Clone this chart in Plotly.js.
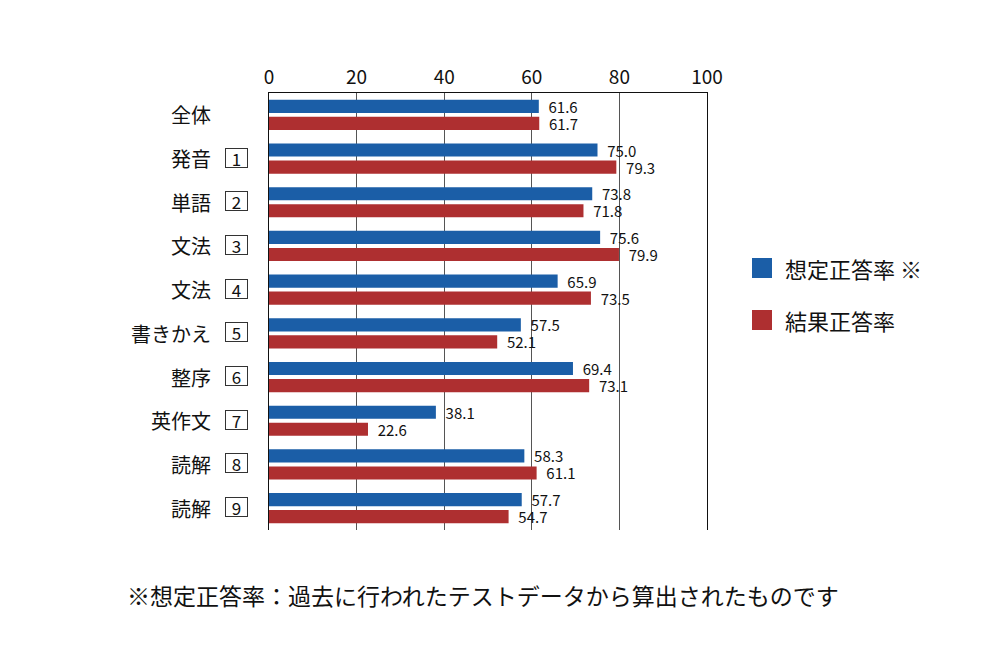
<!DOCTYPE html>
<html>
<head>
<meta charset="utf-8">
<script src="https://cdn.plot.ly/plotly-3.0.1.min.js"></script>
<style>html,body{margin:0;padding:0;background:#fff;}#chart{width:1000px;height:660px;}</style>
</head>
<body>
<div id="chart"></div>
<script>
const categoryNames = ['全体','発音','単語','文法','文法','書きかえ','整序','英作文','読解','読解'];
const categoryNums  = ['','1','2','3','4','5','6','7','8','9'];
const expectedRate  = [61.6, 75.0, 73.8, 75.6, 65.9, 57.5, 69.4, 38.1, 58.3, 57.7];
const resultRate    = [61.7, 79.3, 71.8, 79.9, 73.5, 52.1, 73.1, 22.6, 61.1, 54.7];
const seriesNames   = ['想定正答率 ※', '結果正答率'];
const xTicks        = [0, 20, 40, 60, 80, 100];
const footnote      = '※想定正答率：過去に行われたテストデータから算出されたものです';

const JP = '"Noto Sans CJK JP", "Noto Sans", sans-serif';
const BLUE = '#1b5ea7';
const RED = '#ae2f30';

const ids = categoryNames.map((n, i) => n + '_' + i);

function barTrace(name, values, color) {
  return {
    type: 'bar', orientation: 'h', name: name,
    y: ids, x: values,
    marker: {color: color},
    text: values.map(v => v.toFixed(1)),
    texttemplate: '\u00a0\u00a0%{text}',
    textposition: 'outside', cliponaxis: false, constraintext: 'none',
    textfont: {family: JP, size: 15, color: '#111'},
    hoverinfo: 'skip'
  };
}
const traces = [
  barTrace(seriesNames[0], expectedRate, BLUE),
  barTrace(seriesNames[1], resultRate, RED)
];

const L = 269, R = 707, T = 93, B = 530;
const px = x => (x - L) / (R - L);
const py = y => (B - y) / (B - T);

const annotations = [];
ids.forEach((id, i) => {
  annotations.push({
    xref: 'paper', yref: 'y', x: 0, y: id, xanchor: 'right', yanchor: 'middle',
    xshift: -56, text: categoryNames[i], showarrow: false,
    font: {family: JP, size: 20, color: '#111'}
  });
  if (categoryNums[i]) {
    annotations.push({
      xref: 'paper', yref: 'y', x: 0, y: id, xanchor: 'center', yanchor: 'middle',
      xshift: -33, yshift: 1, text: categoryNums[i], showarrow: false,
      width: 19, height: 16, borderpad: 1, bordercolor: '#333', borderwidth: 1,
      font: {family: JP, size: 17, color: '#111'}
    });
  }
});

// legend (manual)
const legendColors = [BLUE, RED];
const legendY = [268, 320];
const shapes = [];
seriesNames.forEach((n, i) => {
  shapes.push({
    type: 'rect', xref: 'paper', yref: 'paper',
    x0: px(752), x1: px(772), y0: py(legendY[i] - 10), y1: py(legendY[i] + 10),
    fillcolor: legendColors[i], line: {width: 0}
  });
  annotations.push({
    xref: 'paper', yref: 'paper', x: px(783), y: py(legendY[i]),
    xanchor: 'left', yanchor: 'middle', text: n, showarrow: false,
    font: {family: JP, size: 22, color: '#111'}
  });
});

annotations.push({
  xref: 'paper', yref: 'paper', x: px(125), y: py(595),
  xanchor: 'left', yanchor: 'middle', text: footnote, showarrow: false,
  font: {family: JP, size: 23, color: '#111'}
});

const layout = {
  width: 1000, height: 660,
  margin: {l: L, r: 1000 - R, t: T, b: 660 - B, pad: 0},
  paper_bgcolor: '#fff', plot_bgcolor: '#fff',
  showlegend: false,
  barmode: 'group', bargap: 0.22, bargroupgap: 0.23,
  xaxis: {
    side: 'top', range: [0, 100], tickvals: xTicks, ticks: '',
    showgrid: true, gridcolor: '#555', gridwidth: 1,
    showline: true, linecolor: '#111', linewidth: 1,
    zeroline: false, fixedrange: true,
    tickfont: {family: JP, size: 19, color: '#111'}
  },
  yaxis: {
    type: 'category', categoryorder: 'array', categoryarray: ids,
    autorange: 'reversed', showticklabels: false, ticks: '',
    showgrid: false, showline: true, mirror: true,
    linecolor: '#111', linewidth: 1, zeroline: false, fixedrange: true
  },
  annotations: annotations,
  shapes: shapes
};

Plotly.newPlot('chart', traces, layout, {displayModeBar: false, staticPlot: true});
</script>
</body>
</html>
